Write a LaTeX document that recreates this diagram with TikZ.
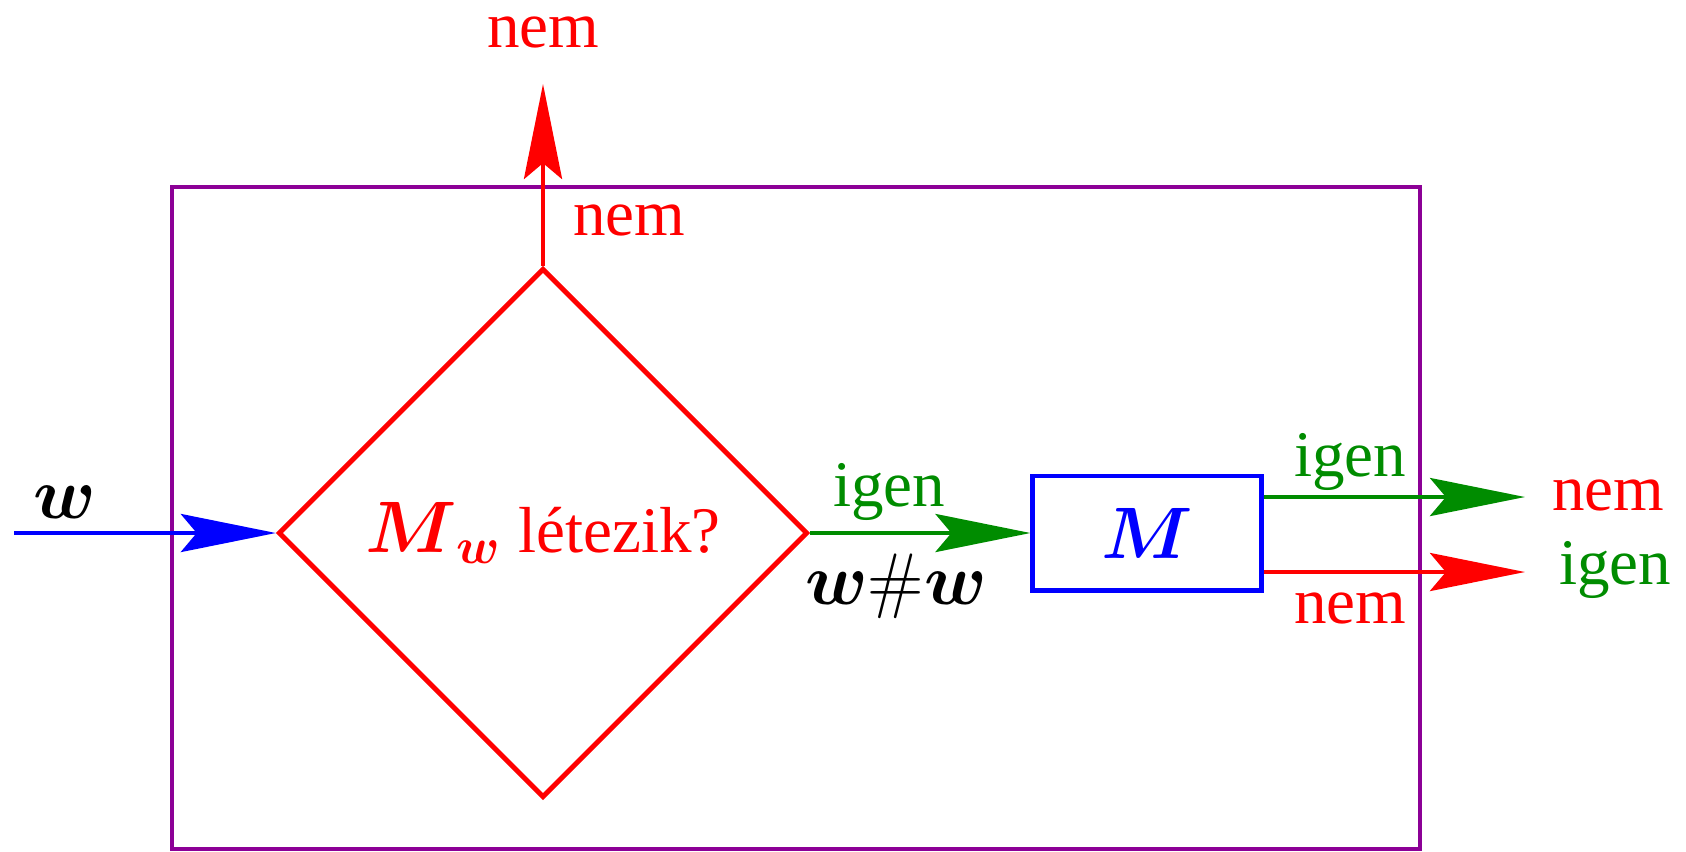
\documentclass[tikz,border=0pt]{standalone}
\usepackage{amsmath,amssymb}
\usepackage[no-math]{fontspec}
\setmainfont{Liberation Serif}
\usetikzlibrary{positioning,calc,arrows.meta,shapes.geometric}
\definecolor{keret}{RGB}{140,0,150}
\definecolor{zold}{RGB}{0,140,0}
\newcommand{\matek}[1]{{\fontsize{20.5}{24}\selectfont$#1$}}

\begin{document}
\begin{tikzpicture}[x=0.01cm,y=-0.01cm,font=\fontsize{18.5}{22}\selectfont,
    vonal/.style={line width=1.4pt},
    nyil/.style={vonal,-{Stealth[length=27pt,width=10.8pt,inset=4.5pt]}},
    every node/.style={inner sep=1pt}]
\useasboundingbox (0,0) rectangle (1686,851);
% keret
\draw[keret,vonal] (172,187) rectangle (1420,849);
% dontes es a gep
\node[diamond,draw=red,vonal,minimum width=5.29cm,minimum height=5.29cm,inner sep=0pt,red] (kerdes) at (543,533) {\matek{\boldsymbol{M}_{\boldsymbol{w}}} létezik?};
\node[rectangle,draw=blue,vonal,minimum width=2.28cm,minimum height=1.14cm,blue] (gep) at (1147,533) {\matek{\boldsymbol{M}}};
% bemenet
\coordinate (be) at (14,533);
\draw[nyil,blue] (be) -- (kerdes.west);
\node (wcimke) at (65,502) {\matek{\boldsymbol{w}}};
% felfele: nem
\coordinate (fent) at (543,84);
\draw[nyil,red] (kerdes.north) -- (fent);
\node[red] (nemfent) at (543,32) {nem};
\node[red] (nembent) at (629,220) {nem};
% kerdes -> gep
\draw[nyil,zold] (kerdes.east) -- (gep.west);
\node[zold] (igenkozep) at (889,492) {igen};
\node (ww) at (896,586) {\matek{\boldsymbol{w}\#\boldsymbol{w}}};
% kimenetek
\coordinate (ki1) at (1525,497);
\coordinate (ki2) at (1525,572);
\draw[nyil,zold] (gep.east |- ki1) -- (ki1);
\draw[nyil,red] (gep.east |- ki2) -- (ki2);
\node[zold] (igenki) at (1350,462) {igen};
\node[red] (nemki) at (1350,608) {nem};
\node[red] (nemjobb) at (1608,495) {nem};
\node[zold] (igenjobb) at (1615,570) {igen};
\end{tikzpicture}
\end{document}
